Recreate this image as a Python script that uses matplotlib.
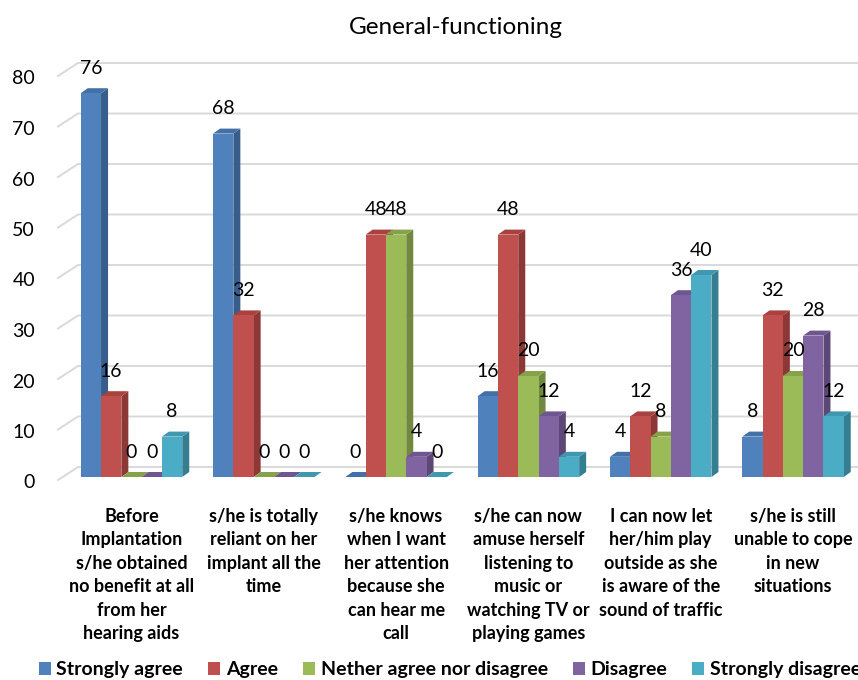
import numpy as np
import matplotlib.pyplot as plt
from matplotlib.patches import Patch, Polygon

plt.rcParams['font.family'] = ['Lato', 'DejaVu Sans']

title = "General-functioning"
categories = [
    "Before\nImplantation\ns/he obtained\nno benefit at all\nfrom her\nhearing aids",
    "s/he is totally\nreliant on her\nimplant all the\ntime",
    "s/he knows\nwhen I want\nher attention\nbecause she\ncan hear me\ncall",
    "s/he can now\namuse herself\nlistening to\nmusic or\nwatching TV or\nplaying games",
    "I can now let\nher/him play\noutside as she\nis aware of the\nsound of traffic",
    "s/he is still\nunable to cope\nin new\nsituations",
]
series_names = ["Strongly agree", "Agree", "Nether agree nor disagree", "Disagree", "Strongly disagree"]
strongly_agree = [76, 68, 0, 16, 4, 8]
agree = [16, 32, 48, 48, 12, 32]
neither = [0, 0, 48, 20, 8, 20]
disagree = [0, 0, 4, 12, 36, 28]
strongly_disagree = [8, 0, 0, 4, 40, 12]
yticks = [0, 10, 20, 30, 40, 50, 60, 70, 80]

series = [strongly_agree, agree, neither, disagree, strongly_disagree]
front = ["#4F81BD", "#C0504D", "#9BBB59", "#8064A2", "#4BACC6"]
side = ["#385D8A", "#8C3836", "#71893F", "#5C4776", "#357D91"]
top = ["#4470A8", "#A9423F", "#86A34B", "#6E5690", "#3F98AF"]

# pixel scale of the plot (figure is 858 x 680 at 100 dpi)
PX_X = 132.3      # px per category
PX_Y = 5.05       # px per unit value
X0_PX = 131.5     # centre of first category
Y0_PX = 477.0     # value 0 on the bar front plane (from top)

fig = plt.figure(figsize=(8.58, 6.8), dpi=100)
ax = fig.add_axes([0, 0, 1, 1])
ax.set_xlim(-X0_PX / PX_X, (858 - X0_PX) / PX_X)
ax.set_ylim(-(680 - Y0_PX) / PX_Y, Y0_PX / PX_Y)
ax.axis("off")

def px_x(p):
    return (p - X0_PX) / PX_X

# back wall gridlines with the slanted left edge
for v in yticks:
    ax.plot([px_x(58), px_x(78), px_x(858)],
            [v - 3 / PX_Y, v + 10 / PX_Y, v + 10 / PX_Y],
            color="#D9D9D9", lw=1.4, zorder=1)
    ax.text(px_x(35), v - 6 / PX_Y, str(v), ha="right", va="center",
            fontsize=14, color="#000000")

w = 20.3 / PX_X
dx = 7 / PX_X
dy = 5 / PX_Y
x = np.arange(len(categories))

z = 2
for i in range(len(categories)):
    for j, vals in enumerate(series):
        v = vals[i]
        xc = x[i] + (j - 2) * w
        x0, x1 = xc - w / 2, xc + w / 2
        ax.add_patch(Polygon([(x1, 0), (x1 + dx, dy), (x1 + dx, v + dy), (x1, v)],
                             closed=True, facecolor=side[j], edgecolor="none", zorder=z))
        ax.add_patch(Polygon([(x0, v), (x0 + dx, v + dy), (x1 + dx, v + dy), (x1, v)],
                             closed=True, facecolor=top[j], edgecolor="none", zorder=z))
        ax.bar(xc, v, width=w, color=front[j], linewidth=0, zorder=z + 0.5)
        ax.text(xc, v + 25 / PX_Y, str(v), ha="center", va="center",
                fontsize=14, zorder=50)
        z += 1

for i, lab in enumerate(categories):
    ax.text(x[i], -(508 - Y0_PX) / PX_Y, lab, ha="center", va="top",
            fontsize=13, fontweight="bold", linespacing=1.46)

fig.text(456 / 858, 1 - 27 / 680, title, ha="center", va="center", fontsize=17.5)

handles = [Patch(facecolor=c, edgecolor="none") for c in front]
fig.legend(handles, series_names, loc="center", bbox_to_anchor=(450 / 858, 1 - 670 / 680),
           ncol=5, frameon=False, prop={"weight": "bold", "size": 14},
           handlelength=0.6, handleheight=0.6, handletextpad=0.3, columnspacing=1.3,
           borderpad=0)

fig.savefig("out.png", dpi=100)
